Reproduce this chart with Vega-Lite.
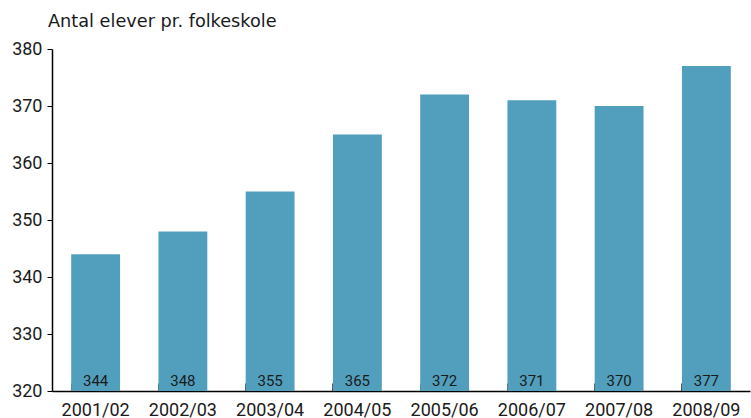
{
  "$schema": "https://vega.github.io/schema/vega-lite/v6.json",
  "width": 698,
  "height": 342,
  "autosize": {"type": "none"},
  "padding": {"left": 52, "top": 49, "right": 1, "bottom": 27},
  "background": "white",
  "title": {
    "text": "Antal elever pr. folkeskole",
    "anchor": "start",
    "frame": "group",
    "orient": "top",
    "baseline": "alphabetic",
    "offset": -5,
    "dx": -4,
    "font": "DejaVu Sans",
    "fontSize": 17.7,
    "fontWeight": "normal",
    "color": "#1a1a1a"
  },
  "config": {"view": {"stroke": null}},
  "data": {
    "values": [
      {"year": "2001/02", "value": 344},
      {"year": "2002/03", "value": 348},
      {"year": "2003/04", "value": 355},
      {"year": "2004/05", "value": 365},
      {"year": "2005/06", "value": 372},
      {"year": "2006/07", "value": 371},
      {"year": "2007/08", "value": 370},
      {"year": "2008/09", "value": 377}
    ]
  },
  "encoding": {
    "x": {
      "field": "year",
      "type": "nominal",
      "sort": null,
      "scale": {"paddingInner": 0.44, "paddingOuter": 0.22},
      "axis": {
        "title": null,
        "labelAngle": 0,
        "labelFont": "Roboto",
        "labelFontSize": 18,
        "labelColor": "#1a1a1a",
        "labelPadding": 18,
        "domainColor": "#000000",
        "domainWidth": 1.5,
        "tickColor": "#555555",
        "tickSize": -8,
        "tickWidth": 1,
        "bandPosition": 0
      }
    }
  },
  "layer": [
    {
      "mark": {"type": "bar", "color": "#529fbd"},
      "encoding": {
        "y": {
          "field": "value",
          "type": "quantitative",
          "scale": {"domain": [320, 380], "zero": false, "nice": false},
          "axis": {
            "title": null,
            "values": [320, 330, 340, 350, 360, 370, 380],
            "grid": false,
            "labelFont": "Roboto",
            "labelFontSize": 18,
            "labelColor": "#1a1a1a",
            "labelPadding": 5,
            "domainColor": "#000000",
            "domainWidth": 1.5,
            "tickColor": "#000000",
            "tickSize": 5,
            "tickWidth": 1
          }
        },
        "y2": {"datum": 320}
      }
    },
    {
      "mark": {
        "type": "text",
        "baseline": "bottom",
        "dy": -2,
        "font": "Roboto",
        "fontSize": 15,
        "color": "#1a1a1a"
      },
      "encoding": {
        "y": {"datum": 320},
        "text": {"field": "value", "type": "quantitative"}
      }
    }
  ]
}
